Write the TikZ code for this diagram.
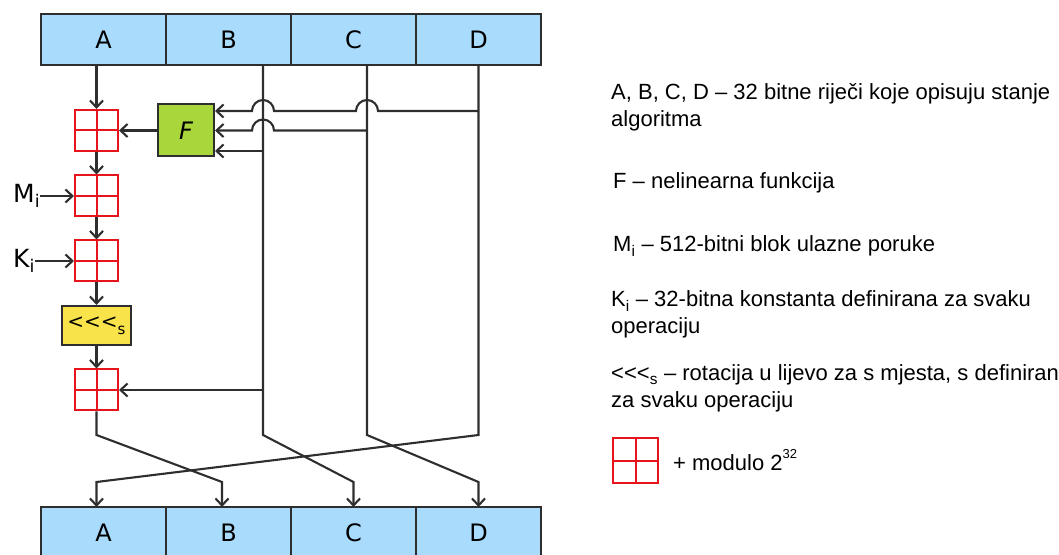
\documentclass[tikz,border=0pt]{standalone}
\usepackage{fontspec}
\setmainfont{Liberation Sans}
\newfontfamily\dejavu{DejaVu Sans}
\usetikzlibrary{positioning,arrows.meta}
\definecolor{regblue}{HTML}{A9DBFC}
\definecolor{fgreen}{HTML}{A9D63A}
\definecolor{rotyellow}{HTML}{F8E34A}
\definecolor{addred}{HTML}{E8141B}
\definecolor{wire}{HTML}{2E2E2E}

\begin{document}
\begin{tikzpicture}[x=1pt, y=1pt, >={Straight Barb[length=7pt,width=13pt]},
  wires/.style={draw=wire, line width=2.1pt},
  reg/.style={draw=wire, line width=2pt, fill=regblue, minimum width=125pt, minimum height=51pt, inner sep=0pt, outer sep=0pt, font=\dejavu\fontsize{24}{24}\selectfont},
  adder/.style={draw=addred, line width=2pt, minimum width=43pt, minimum height=41pt, inner sep=0pt,
    path picture={\draw[addred, line width=2pt] (path picture bounding box.north) -- (path picture bounding box.south) (path picture bounding box.west) -- (path picture bounding box.east);}},
  lbl/.style={inner sep=0pt, font=\dejavu\fontsize{25}{25}\selectfont},
  note/.style={inner sep=0pt, font=\fontsize{22}{27}\selectfont}]
  \path[use as bounding box] (0,0) rectangle (1059,554);
  \clip (0,0) rectangle (1059,554);

  \node[reg] (a0) at (103.5,514.5) {A};
  \node[reg, right=0pt of a0] (b0) {B};
  \node[reg, right=0pt of b0] (c0) {C};
  \node[reg, right=0pt of c0] (d0) {D};

  \node[reg] (a1) at (103.5,21.5) {A};
  \node[reg, right=0pt of a1] (b1) {B};
  \node[reg, right=0pt of b1] (c1) {C};
  \node[reg, right=0pt of c1] (d1) {D};

  \node[adder] (add1) at (96.5,423.5) {};
  \node[adder] (add2) at (96.5,358) {};
  \node[adder] (add3) at (96.5,293) {};
  \node[draw=wire, line width=2pt, fill=rotyellow, minimum width=69pt, minimum height=39pt, inner sep=0pt, font=\dejavu\fontsize{20}{20}\selectfont] (rot) at (96.5,228.5) {<\kern0pt<\kern0pt<\raisebox{-6pt}{\fontsize{15}{15}\selectfont s}};
  \node[adder] (add4) at (96.5,164) {};
  \node[draw=wire, line width=2pt, fill=fgreen, minimum width=56pt, minimum height=52pt, inner sep=0pt, font=\dejavu\fontsize{24}{24}\selectfont\itshape] (f) at (186,423.5) {F};

  \node[lbl, anchor=base west] (mi) at (13,351) {M\textsubscript{i}};
  \node[lbl, anchor=base west] (ki) at (13,286) {K\textsubscript{i}};

  \coordinate (fd) at (478.5,443);
  \coordinate (fc) at (367,423.5);
  \coordinate (fb) at (263,403);
  \coordinate (ab) at (263,164);

  \draw[wires, ->] (a0.south -| add1) -- (add1);
  \draw[wires, ->] (f) -- (add1);
  \draw[wires, ->] (add1) -- (add2);
  \draw[wires, ->] (mi.east |- add2) -- (add2);
  \draw[wires, ->] (add2) -- (add3);
  \draw[wires, ->] (ki.east |- add3) -- (add3);
  \draw[wires, ->] (add3) -- (rot);
  \draw[wires, ->] (rot) -- (add4);

  \draw[wires, ->] (fd) -- (378,443) arc[start angle=0, end angle=180, radius=11]
    -- (274,443) arc[start angle=0, end angle=180, radius=11] -- (f.east |- fd);
  \draw[wires, ->] (fc) -- (274,423.5) arc[start angle=0, end angle=180, radius=11] -- (f);
  \draw[wires, ->] (fb) -- (f.east |- fb);
  \draw[wires, ->] (ab) -- (add4);

  \draw[wires, ->] (add4) -- (96.5,119) -- (222,72) -- ([xshift=-6.5pt]b1.north);
  \draw[wires, ->] ([xshift=34.5pt]b0.south) -- (263,119) -- (353.5,72) -- (c1);
  \draw[wires, ->] ([xshift=13.5pt]c0.south) -- (367,119) -- (478.5,72) -- (d1);
  \draw[wires, ->] (d0) -- (478.5,119) -- (96.5,72) -- (a1.north -| add4);

  \node[note, anchor=base west] (n1) at (611,454) {\begin{tabular}[t]{@{}l@{}}A, B, C, D – 32 bitne riječi koje opisuju stanje\\algoritma\end{tabular}};
  \node[note, anchor=base west] (n2) at (613,365) {F – nelinearna funkcija};
  \node[note, anchor=base west] (n3) at (613,302) {M\textsubscript{i} – 512-bitni blok ulazne poruke};
  \node[note, anchor=base west] (n4) at (611,247) {\begin{tabular}[t]{@{}l@{}}K\textsubscript{i} – 32-bitna konstanta definirana za svaku\\operaciju\end{tabular}};
  \node[note, anchor=base west] (n5) at (611,173) {\begin{tabular}[t]{@{}l@{}}<\kern0pt<\kern0pt<\textsubscript{s} – rotacija u lijevo za s mjesta, s definiran\\za svaku operaciju\end{tabular}};
  \node[adder, minimum width=45pt, minimum height=45pt] (key) at (635.5,93.5) {};
  \node[note, anchor=base west] (n6) at (673,84) {+ modulo 2\raisebox{12pt}{\fontsize{13}{13}\selectfont 32}};
\end{tikzpicture}
\end{document}
